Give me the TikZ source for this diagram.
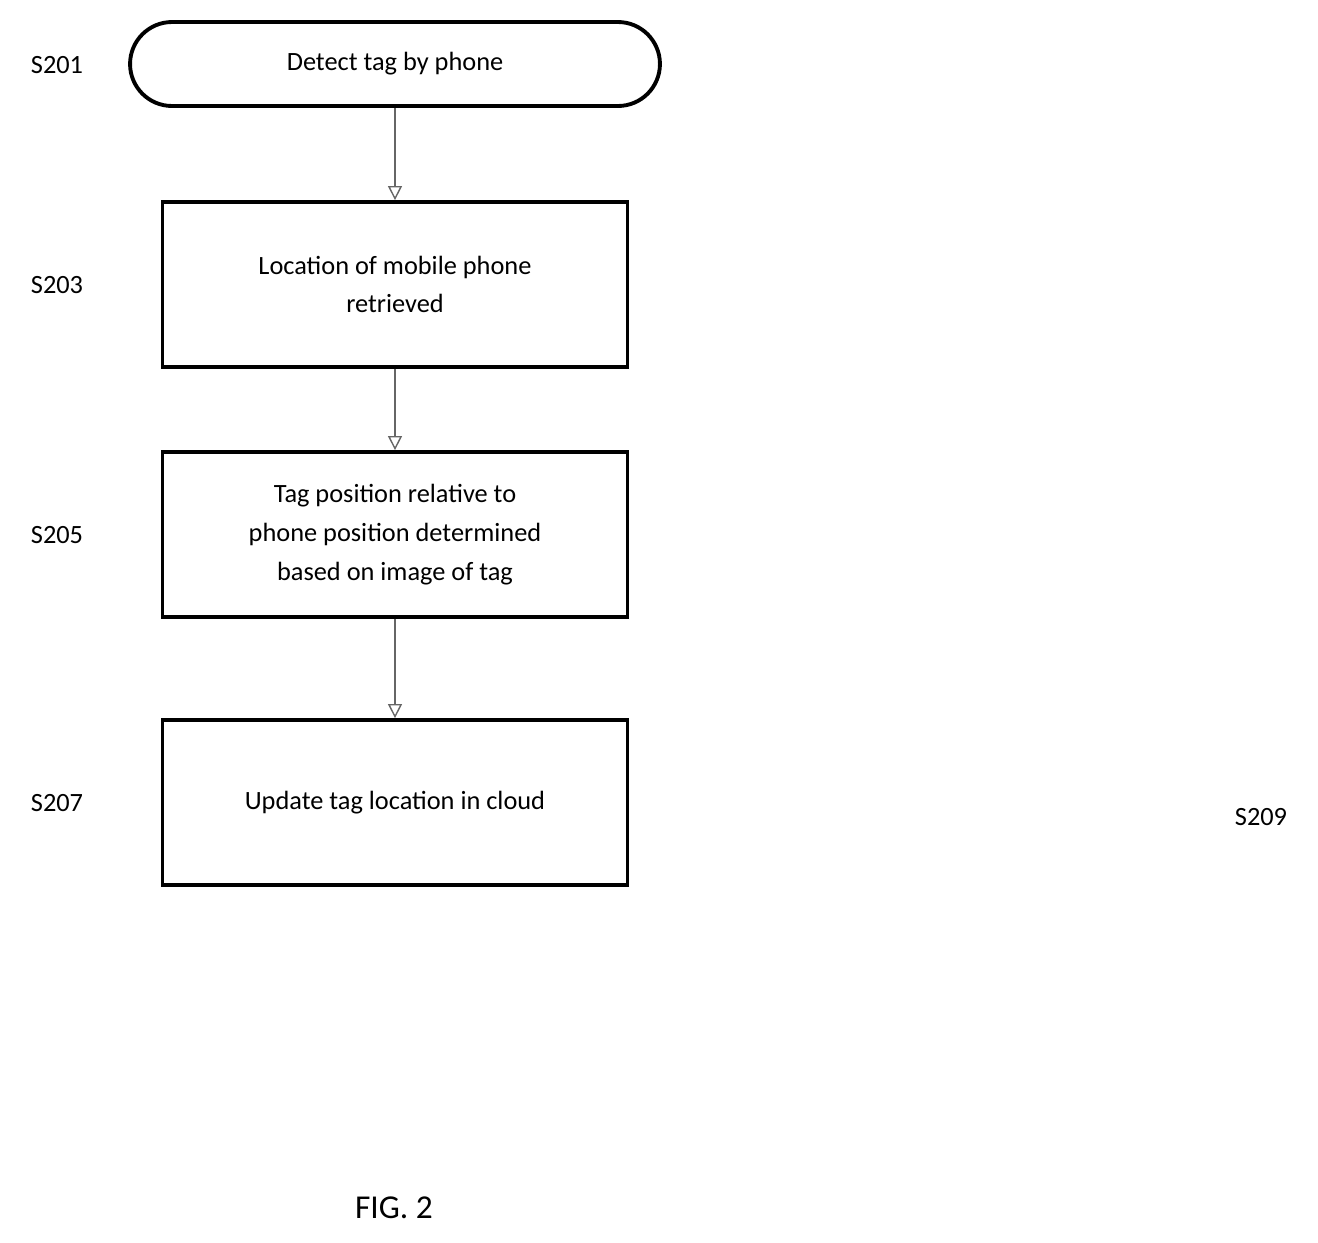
\documentclass[tikz,border=0pt]{standalone}
\usepackage{fontspec}
\setmainfont{Carlito}
\usetikzlibrary{positioning, arrows.meta}
\tikzset{
	stepbox/.style={draw, line width=2.2pt, minimum width=9.3cm, minimum height=3.3cm, align=center, font=\fontsize{15}{22}\selectfont},
	startbox/.style={draw, line width=2.2pt, rounded corners=0.84cm, minimum width=10.6cm, minimum height=1.68cm, font=\fontsize{15}{22}\selectfont},
	steplabel/.style={font=\fontsize{15}{18}\selectfont},
	arrow/.style={draw=gray!80!black, line width=0.8pt, -{Triangle[open, length=8pt, width=8pt]}},
}
\begin{document}
\begin{tikzpicture}[x=0.02cm, y=-0.02cm]
		\useasboundingbox (0,0) rectangle (1318,1242);
		% Flow
		\node[startbox] (detect) at (395,64) {Detect tag by phone};
		\node[stepbox] (locate) at (395,284.5) {Location of mobile phone\\retrieved};
		\node[stepbox] (relpos) at (395,534.5) {Tag position relative to\\phone position determined\\based on image of tag};
		\node[stepbox] (update) at (395,802.5) {Update tag location in cloud};

		\draw[arrow] (detect) -- (locate);
		\draw[arrow] (locate) -- (relpos);
		\draw[arrow] (relpos) -- (update);

		% Step labels
		\node[steplabel] (s201) at (57,65) {S201};
		\node[steplabel] (s203) at (57,285) {S203};
		\node[steplabel] (s205) at (57,535) {S205};
		\node[steplabel] (s207) at (57,803) {S207};
		\node[steplabel] (s209) at (1261,817) {S209};

		\node[font=\fontsize{19}{22}\selectfont] (fig) at (394,1208) {FIG. 2};
	\end{tikzpicture}
\end{document}
